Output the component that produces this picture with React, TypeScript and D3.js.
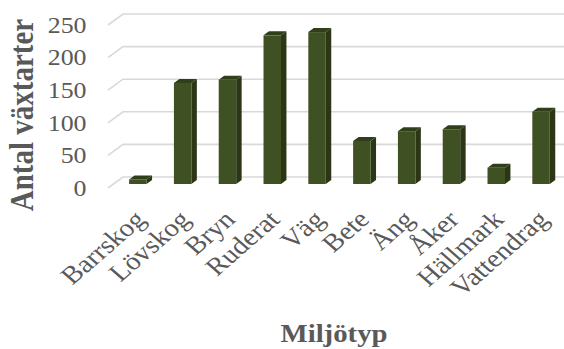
import React from "react";
import * as d3 from "d3";

const categories = ["Barrskog", "Lövskog", "Bryn", "Ruderat", "Väg", "Bete", "Äng", "Åker", "Hällmark", "Vattendrag"];
const values = [7, 155, 160, 228, 233, 66, 81, 84, 25, 111];
const yTicks = [0, 50, 100, 150, 200, 250];
const yTitle = "Antal växtarter";
const xTitle = "Miljötyp";

const W = 564;
const H = 349;
const DX = 15; // depth vector (front -> back)
const DY = -11;
const F0 = 4 / 11; // bar front depth fraction
const F1 = 8 / 11; // bar back depth fraction
const SX = 1.15; // horizontal stretch of text
const FONT = "'Liberation Serif', 'Times New Roman', serif";
const TXT = "#595959";

export default function App() {
  const x = d3.scaleBand<string>().domain(categories).range([110, 558]).paddingInner(0.61).paddingOuter(0.305);
  const y = d3.scaleLinear().domain([0, 250]).range([188, 25]);
  const bw = x.bandwidth();

  return (
    <svg width={W} height={H} style={{ position: "absolute", left: 0, top: 0, background: "#fff" }}>
      {yTicks.map((t) => (
        <g key={t}>
          <polyline
            points={`108,${y(t)} ${108 + DX},${y(t) + DY} ${W},${y(t) + DY}`}
            fill="none"
            stroke="#d9d9d9"
            strokeWidth={1.6}
          />
          <g transform={`translate(86.5 ${y(t)}) scale(${SX} 1)`}>
            <text x={0} y={0} dy="0.35em" textAnchor="end" fontFamily={FONT} fontSize={22.5} fill={TXT}>
              {t}
            </text>
          </g>
        </g>
      ))}
      {categories.map((c, i) => {
        const v = values[i];
        const x0 = (x(c) as number) + F0 * DX;
        const yb = y(0) + F0 * DY;
        const yt = y(v) + F0 * DY;
        const ddx = (F1 - F0) * DX;
        const ddy = (F1 - F0) * DY;
        const x1 = x0 + bw;
        return (
          <g key={c}>
            <polygon
              points={`${x1},${yb} ${x1 + ddx},${yb + ddy} ${x1 + ddx},${yt + ddy} ${x1},${yt}`}
              fill="#2a3616"
            />
            <polygon
              points={`${x0},${yt} ${x1},${yt} ${x1 + ddx},${yt + ddy} ${x0 + ddx},${yt + ddy}`}
              fill="#313e1a"
            />
            <rect x={x0} y={yt} width={bw} height={yb - yt} fill="#3f5023" />
          </g>
        );
      })}
      {categories.map((c) => {
        const cx = (x(c) as number) + F0 * DX + bw / 2 + 9;
        const cy = 221;
        return (
          <g key={c} transform={`translate(${cx} ${cy}) scale(${SX} 1)`}>
            <text
              x={0}
              y={0}
              textAnchor="end"
              transform="rotate(-45)"
              fontFamily={FONT}
              fontSize={25}
              fill={TXT}
            >
              {c}
            </text>
          </g>
        );
      })}
      <g transform={`translate(33 115) scale(${SX} 1)`}>
        <text
          x={0}
          y={0}
          transform="rotate(-90)"
          textAnchor="middle"
          fontFamily={FONT}
          fontWeight="bold"
          fontSize={29}
          fill={TXT}
        >
          {yTitle}
        </text>
      </g>
      <g transform={`translate(334 342.3) scale(${SX} 1)`}>
        <text x={0} y={0} textAnchor="middle" fontFamily={FONT} fontWeight="bold" fontSize={25} fill={TXT}>
          {xTitle}
        </text>
      </g>
    </svg>
  );
}
